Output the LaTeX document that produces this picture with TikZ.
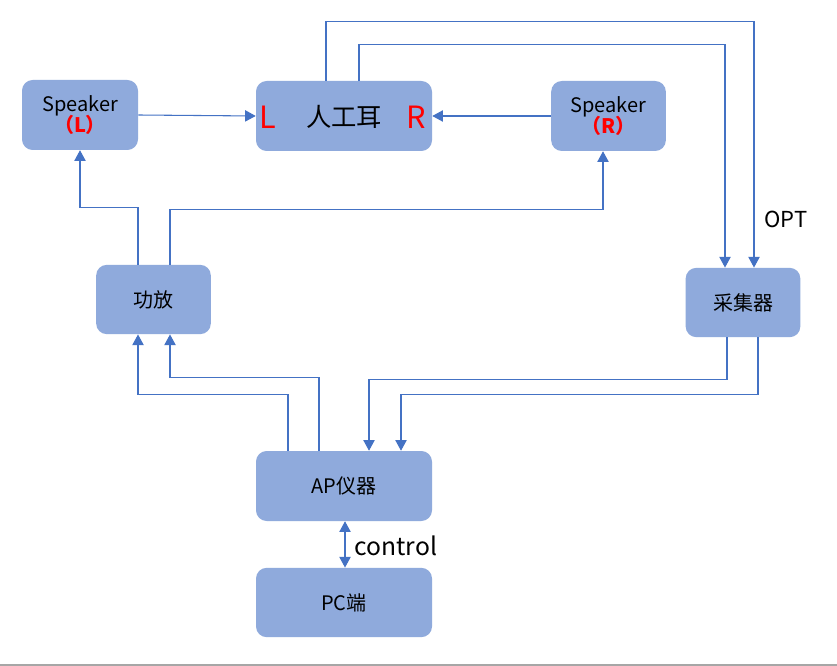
\documentclass[tikz,border=0pt]{standalone}
\usepackage{fontspec}
\setmainfont{Noto Sans CJK SC}
\usetikzlibrary{arrows.meta,calc}
\definecolor{boxfill}{HTML}{8FAADC}
\definecolor{linec}{HTML}{4472C4}
\definecolor{redt}{HTML}{FF0000}
\begin{document}
\begin{tikzpicture}[x=0.75pt,y=-0.75pt,
  box/.style={draw=none,fill=boxfill,rounded corners=8pt,inner sep=0pt,font=\fontsize{15}{18}\selectfont,align=center},
  arr/.style={draw=linec,line width=0.8pt,-{Triangle[width=8.5pt,length=8pt]}},
  darr/.style={draw=linec,line width=0.8pt,{Triangle[width=8.5pt,length=8pt]}-{Triangle[width=8.5pt,length=8pt]}}
]
\useasboundingbox (0,0) rectangle (837,666);
\fill[white] (0,0) rectangle (837,666);
\draw[color=black!35,line width=1.5pt] (0,664.5) -- (837,664.5);

\node[box,minimum width=87pt,minimum height=52.5pt] (spkL) at (80,115) {Speaker\\[-2pt]{\bfseries\color{redt}（L）}};
\node[box,minimum width=132pt,minimum height=52.5pt] (ear) at (344,116) {};
\node[box,minimum width=86pt,minimum height=52.5pt] (spkR) at (608.5,116) {Speaker\\[-2pt]{\bfseries\color{redt}（R）}};
\node[box,minimum width=86pt,minimum height=52pt] (amp) at (153.5,299.5) {功放};
\node[box,minimum width=86pt,minimum height=52pt] (acq) at (743,302.5) {采集器};
\node[box,minimum width=132pt,minimum height=52.5pt] (ap) at (344,486) {AP仪器};
\node[box,minimum width=132pt,minimum height=52pt] (pc) at (344,602.5) {PC端};

\node[text=redt,font=\fontsize{23}{27}\selectfont] (eL) at ($(ear.west)+(12,1)$) {L};
\node[text=redt,font=\fontsize{23}{27}\selectfont] (eR) at ($(ear.east)+(-16,1)$) {R};
\node[font=\fontsize{19}{22}\selectfont] (eT) at ($(ear.center)+(0,1)$) {人工耳};

\draw[arr] (spkL.east) -- (ear.west);
\draw[arr] (spkR.west) -- (ear.east);

\draw[arr] ($(amp.north)+(-15.5,0)$) -- ++(0,-57) -| (spkL.south);
\draw[arr] ($(amp.north)+(16.5,0)$) -- ++(0,-55) -| ($(spkR.south)+(-5.5,0)$);

\draw[arr] ($(ap.north)+(-56,0)$) -- ++(0,-56) -| ($(amp.south)+(-15.5,0)$);
\draw[arr] ($(ap.north)+(-25,0)$) -- ++(0,-73) -| ($(amp.south)+(16.5,0)$);

\draw[arr] ($(acq.south)+(-16,0)$) -- ++(0,42) -| ($(ap.north)+(25,0)$);
\draw[arr] ($(acq.south)+(15,0)$) -- ++(0,57) -| ($(ap.north)+(57,0)$);

\draw[arr] ($(ear.north)+(-18,0)$) -- ++(0,-59) -| ($(acq.north)+(11,0)$);
\draw[arr] ($(ear.north)+(15,0)$) -- ++(0,-36) -| ($(acq.north)+(-18,0)$);

\node[font=\fontsize{16.5}{19}\selectfont] (opt) at (786,219) {OPT};

\draw[darr] ($(ap.south)+(1,0)$) -- ($(pc.north)+(1,0)$);
\node[font=\fontsize{18.5}{22}\selectfont,anchor=west] (ctl) at (350,546) {control};
\end{tikzpicture}
\end{document}
